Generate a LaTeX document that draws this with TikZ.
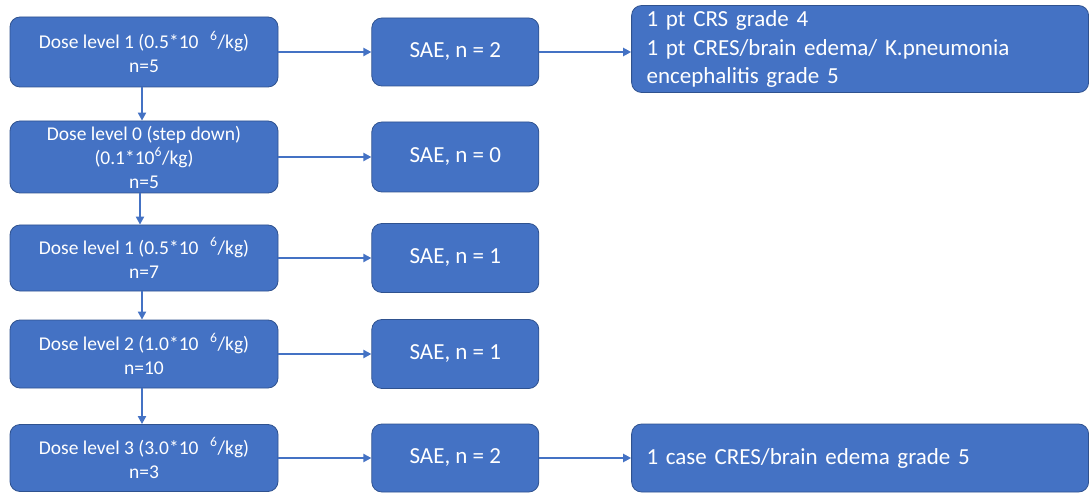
\documentclass[tikz,border=0pt]{standalone}
\usepackage{fontspec}
\setmainfont{Carlito}
\usepackage{xcolor}
\definecolor{cFill}{HTML}{4472C4}
\definecolor{cEdge}{HTML}{2F528F}
\usepackage{tikz}
\usetikzlibrary{positioning,arrows.meta}
\tikzset{
  node-dose/.style={draw=cEdge,thick,fill=cFill,rounded corners=10pt,
    minimum width=268pt,minimum height=68pt,align=center,text=white,
    font=\fontsize{19.5}{24}\selectfont,inner sep=2pt},
  node-sae/.style={draw=cEdge,thick,fill=cFill,rounded corners=10pt,
    minimum width=167pt,minimum height=68pt,align=center,text=white,
    font=\fontsize{23}{26}\selectfont},
  node-note/.style={draw=cEdge,thick,fill=cFill,rounded corners=10pt,
    text width=427pt,inner xsep=15pt,minimum height=68pt,align=left,
    text=white,font=\fontsize{23}{28.5}\selectfont},
  arrow/.style={-{Triangle[length=8pt,width=8pt]},line width=2pt,draw=cFill},
}
\newcommand{\tenexp}[1]{10\hspace{0.6em}\textsuperscript{#1}}

\begin{document}
\begin{tikzpicture}[x=1pt,y=-1pt,node distance=8mm and 93pt]
  \useasboundingbox (0,0) rectangle (1089,494);
  % dose levels
  \node[node-dose,minimum height=70pt] (d1) at (144,52)
    {Dose level 1 (0.5*\tenexp{6}/kg)\\n=5};
  \node[node-dose,minimum height=72pt] (d2) at (144,157)
    {Dose level 0 (step down)\\(0.1*10\textsuperscript{6}/kg)\\n=5};
  \node[node-dose,minimum height=66pt] (d3) at (144,258)
    {Dose level 1 (0.5*\tenexp{6}/kg)\\n=7};
  \node[node-dose] (d4) at (144,354)
    {Dose level 2 (1.0*\tenexp{6}/kg)\\n=10};
  \node[node-dose,minimum height=67pt] (d5) at (144,458)
    {Dose level 3 (3.0*\tenexp{6}/kg)\\n=3};
  % SAE counts
  \node[node-sae,right=of d1] (s1) {SAE, n = 2};
  \node[node-sae,right=of d2,minimum height=70pt] (s2) {SAE, n = 0};
  \node[node-sae,right=of d3,minimum height=69pt] (s3) {SAE, n = 1};
  \node[node-sae,right=of d4,minimum height=69pt] (s4) {SAE, n = 1};
  \node[node-sae,right=of d5] (s5) {SAE, n = 2};
  % details
  \node[node-note,right=92pt of s1,yshift=3pt,minimum height=87pt] (r1)
    {1 pt CRS grade 4\\1 pt CRES/brain edema/ K.pneumonia\\encephalitis grade 5};
  \node[node-note,right=92pt of s5] (r2) {1 case CRES/brain edema grade 5};
  \draw[arrow] ([xshift=-2pt]d1.south) -- ([xshift=-2pt]d2.north);
  \draw[arrow] ([xshift=-4pt]d2.south) -- ([xshift=-4pt]d3.north);
  \draw[arrow] ([xshift=-2pt]d3.south) -- ([xshift=-2pt]d4.north);
  \draw[arrow] ([xshift=-2pt]d4.south) -- ([xshift=-2pt]d5.north);
  \foreach \i in {1,...,5}
    \draw[arrow] (d\i) -- (s\i);
  \draw[arrow] (s1) -- (s1 -| r1.west);
  \draw[arrow] (s5) -- (r2);
\end{tikzpicture}
\end{document}
